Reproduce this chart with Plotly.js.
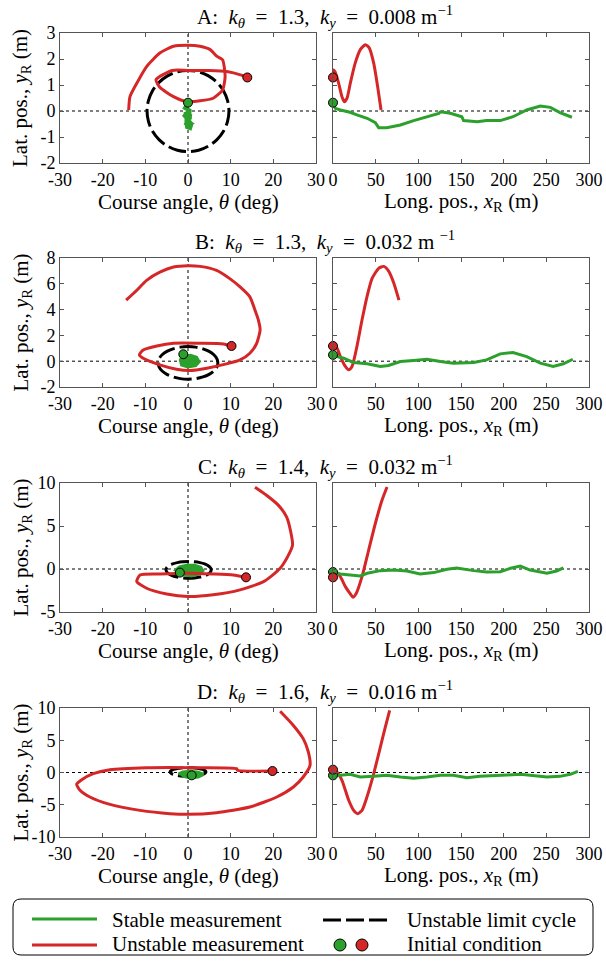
<!DOCTYPE html>
<html><head><meta charset="utf-8">
<script src="https://cdn.plot.ly/plotly-3.0.1.min.js"></script>
<style>html,body{margin:0;padding:0;background:#fff}#chart{width:606px;height:967px}</style>
</head><body><div id="chart"></div>
<script>
// ---------- tick values ----------
const thetaTicks = [-30, -20, -10, 0, 10, 20, 30];
const longTicks = [0, 50, 100, 150, 200, 250, 300];
const aLatTicks = [-2, -1, 0, 1, 2, 3];
const bLatTicks = [-2, 0, 2, 4, 6, 8];
const cLatTicks = [-5, 0, 5, 10];
const dLatTicks = [-10, -5, 0, 5, 10];

// ---------- row A ----------
const aRedTheta = [13.9, 12.5, 9.1, 5.0, 0.0, -3.7, -7.5, -6.6, -3.4, -0.3, 2.8, 5.9, 8.1, 8.7, 8.1, 6.8, 5.2, 2.8, 0.0, -3.4, -6.6, -9.7, -12.0, -13.6, -13.9];
const aRedLat = [1.29, 1.38, 1.52, 1.56, 1.56, 1.56, 1.20, 0.91, 0.55, 0.36, 0.39, 0.49, 0.81, 1.33, 1.97, 2.10, 2.36, 2.49, 2.53, 2.49, 2.23, 1.71, 1.07, 0.55, 0.04];
const aGreenTheta = [0.0, -0.7, 0.6, -0.8, 0.7, -0.6, 0.7, -0.5, 0.5, 0.8, -0.2, -0.8, 0.4, 0.2, -0.6, 0.6, -0.3];
const aGreenLat = [0.32, 0.12, 0.0, -0.12, -0.25, -0.35, -0.48, -0.60, -0.66, -0.50, -0.30, -0.18, 0.05, -0.40, -0.55, -0.10, -0.45];
const aCycleTheta = [9.6, 9.27, 8.31, 6.79, 4.80, 2.48, 0, -2.48, -4.80, -6.79, -8.31, -9.27, -9.6, -9.27, -8.31, -6.79, -4.80, -2.48, 0, 2.48, 4.80, 6.79, 8.31, 9.27, 9.6];
const aCycleLat = [0, 0.40, 0.78, 1.10, 1.35, 1.51, 1.56, 1.51, 1.35, 1.10, 0.78, 0.40, 0, -0.40, -0.78, -1.10, -1.35, -1.51, -1.56, -1.51, -1.35, -1.10, -0.78, -0.40, 0];
const aRedLong = [0, 0.8, 2.5, 6.6, 10.5, 13.3, 16.4, 20.3, 26, 32, 38, 42.6, 47.7, 52.3, 56.3];
const aRedLatR = [1.29, 1.58, 1.50, 1.07, 0.55, 0.36, 0.49, 1.07, 1.84, 2.36, 2.55, 2.42, 1.84, 0.94, 0.04];
const aGreenLong = [0, 2.7, 8.6, 20, 28, 40, 49.6, 53.5, 63, 79, 94.5, 110, 124, 126, 137.5, 151, 153, 169, 180, 196, 211, 227, 243, 254.7, 266, 280];
const aGreenLatR = [0.32, 0.10, 0.04, -0.05, -0.15, -0.28, -0.45, -0.64, -0.64, -0.54, -0.37, -0.22, -0.09, -0.03, -0.09, -0.22, -0.37, -0.41, -0.37, -0.37, -0.22, 0.04, 0.19, 0.14, -0.06, -0.24];
const aInitTheta = [0.0, 13.9];
const aInitLat = [0.32, 1.29];
const aInitLatR = [0.32, 1.29];

// ---------- row B ----------
const bRedTheta = [10.2, 8.3, 2.8, -3.4, -7.3, -10.5, -11.4, -10.5, -6.6, -2.7, 0.5, 4.4, 9.0, 12.2, 14.5, 16.1, 16.9, 16.5, 15.7, 14.5, 12.2, 9.8, 6.7, 2.8, 0.0, -3.4, -6.6, -9.7, -12.0, -14.5];
const bRedLat = [1.18, 1.34, 1.39, 1.39, 1.18, 0.87, 0.49, 0.23, -0.28, -0.62, -0.72, -0.54, -0.21, 0.10, 0.62, 1.39, 2.42, 3.19, 3.96, 4.99, 5.76, 6.40, 7.04, 7.35, 7.40, 7.30, 6.90, 6.27, 5.50, 4.73];
const bGreenTheta = [-1.1, -1.8, -1.5, 0.0, 1.8, 2.6, 2.0, 0.6, -0.8, -1.4, -0.8, 0.6, 1.8, 1.2, 0.0, -0.5, 0.4, 1.0];
const bGreenLat = [0.54, 0.10, -0.30, -0.45, -0.35, -0.05, 0.30, 0.45, 0.35, 0.00, -0.30, -0.35, -0.10, 0.20, 0.20, 0.00, -0.15, 0.00];
const bCycleTheta = [7.0, 6.76, 6.06, 4.95, 3.5, 1.81, 0, -1.81, -3.5, -4.95, -6.06, -6.76, -7.0, -6.76, -6.06, -4.95, -3.5, -1.81, 0, 1.81, 3.5, 4.95, 6.06, 6.76, 7.0];
const bCycleLat = [-0.13, 0.20, 0.50, 0.76, 0.96, 1.09, 1.13, 1.09, 0.96, 0.76, 0.50, 0.20, -0.13, -0.46, -0.76, -1.02, -1.22, -1.35, -1.39, -1.35, -1.22, -1.02, -0.76, -0.46, -0.13];
const bRedLong = [0, 4.7, 8.6, 14.5, 18.4, 22.3, 28, 34, 39.8, 45.7, 53.5, 59.4, 65, 71, 77.3];
const bRedLatR = [1.18, 1.0, 0.36, -0.41, -0.67, -0.41, 1.13, 3.19, 4.99, 6.40, 7.20, 7.35, 7.0, 6.1, 4.73];
const bGreenLong = [0, 4.7, 12.5, 24, 40, 55.5, 65, 79, 94.5, 110, 126, 141, 165, 180, 196, 211, 227, 243, 258, 270, 281];
const bGreenLatR = [0.49, 0.36, 0.23, -0.10, -0.20, -0.41, -0.33, -0.03, 0.05, 0.15, -0.03, -0.15, -0.10, 0.10, 0.57, 0.67, 0.36, -0.15, -0.41, -0.20, 0.15];
const bInitTheta = [-1.1, 10.2];
const bInitLat = [0.54, 1.18];
const bInitLatR = [0.49, 1.18];

// ---------- row C ----------
const cRedTheta = [13.6, 10.6, 5.9, -0.3, -6.6, -11.25, -12.0, -9.7, -5.0, 0.0, 5.9, 12.2, 17.7, 21.6, 23.75, 24.5, 24.0, 23.1, 21.2, 18.4, 15.7];
const cRedLat = [-0.97, -0.70, -0.58, -0.50, -0.58, -0.70, -1.47, -2.24, -2.90, -3.20, -3.00, -2.43, -1.47, 0.08, 1.81, 2.78, 4.50, 6.06, 7.40, 8.57, 9.50];
const cGreenTheta = [-1.9, -2.9, -2.0, -0.3, 1.5, 3.0, 3.5, 2.6, 0.8, -1.0, -2.3, -1.8, -0.3, 1.5, 2.5, 1.6, 0.0, -1.2, -0.5, 1.0, 1.2];
const cGreenLat = [-0.42, -0.15, 0.25, 0.45, 0.45, 0.20, -0.20, -0.60, -0.80, -0.70, -0.35, 0.05, 0.25, 0.20, -0.15, -0.50, -0.55, -0.30, 0.00, 0.00, -0.30];
const cCycleTheta = [5.45, 5.27, 4.74, 3.90, 2.80, 1.52, 0.15, -1.22, -2.50, -3.60, -4.44, -4.97, -5.15, -4.97, -4.44, -3.60, -2.50, -1.22, 0.15, 1.52, 2.80, 3.90, 4.74, 5.27, 5.45];
const cCycleLat = [-0.10, 0.15, 0.39, 0.59, 0.74, 0.84, 0.87, 0.84, 0.74, 0.59, 0.39, 0.15, -0.10, -0.35, -0.59, -0.79, -0.94, -1.04, -1.07, -1.04, -0.94, -0.79, -0.59, -0.35, -0.10];
const cRedLong = [0, 4.7, 8.6, 14.5, 20.3, 23.4, 27.3, 34, 41.8, 49.6, 57.4, 63.3];
const cRedLatR = [-0.97, -0.50, -0.90, -2.05, -2.90, -3.28, -2.82, -0.89, 2.20, 5.29, 7.99, 9.54];
const cGreenLong = [0, 8.6, 20, 32, 40, 55.5, 71, 86.7, 102, 118, 133.6, 145, 165, 180, 196, 208, 219.5, 231, 250.7, 262, 270];
const cGreenLatR = [-0.35, -0.58, -0.70, -0.81, -0.50, -0.19, -0.12, -0.23, -0.58, -0.42, -0.04, 0.12, -0.19, -0.35, -0.31, 0.08, 0.35, -0.12, -0.50, -0.23, 0.12];
const cInitTheta = [-1.9, 13.6];
const cInitLat = [-0.42, -0.97];
const cInitLatR = [-0.35, -0.97];

// ---------- row D ----------
const dRedTheta = [19.8, 11.6, 11.4, 2.8, -9.7, -18.3, -22.2, -24.9, -26.1, -25.3, -23.0, -18.3, -11.25, -4.2, 0.0, 6.7, 14.5, 20.8, 24.7, 27.0, 28.6, 28.2, 27.0, 24.7, 21.6];
const dRedLat = [0.23, 0.35, 0.60, 0.75, 0.75, 0.44, -0.18, -1.11, -1.83, -2.76, -3.80, -4.94, -5.87, -6.38, -6.49, -6.23, -5.35, -3.80, -2.25, -0.70, 1.11, 3.18, 5.25, 7.30, 9.50];
const dGreenTheta = [0.86, -0.8, -2.2, -1.2, 0.6, 2.4, 3.6, 2.4, 0.6, -1.0, -1.6, -0.4, 1.4, 2.6, 1.5, 0.0, 0.5, 1.6];
const dGreenLat = [-0.44, -0.35, -0.20, 0.10, 0.20, 0.05, -0.30, -0.70, -0.85, -0.60, -0.25, 0.00, 0.00, -0.30, -0.55, -0.50, -0.25, -0.25];
const dCycleTheta = [4.2, 4.06, 3.64, 2.97, 2.1, 1.09, 0, -1.09, -2.1, -2.97, -3.64, -4.06, -4.2, -4.06, -3.64, -2.97, -2.1, -1.09, 0, 1.09, 2.1, 2.97, 3.64, 4.06, 4.2];
const dCycleLat = [0.08, 0.25, 0.42, 0.55, 0.66, 0.73, 0.75, 0.73, 0.66, 0.55, 0.42, 0.25, 0.08, -0.09, -0.26, -0.39, -0.50, -0.57, -0.59, -0.57, -0.50, -0.39, -0.26, -0.09, 0.08];
const dRedLong = [0, 4.7, 10.5, 18.4, 24.2, 28.9, 34, 39.8, 47.7, 55.5, 61.3, 66.4];
const dRedLatR = [0.44, 0.08, -1.21, -4.30, -5.87, -6.38, -5.87, -3.80, -0.18, 3.95, 7.05, 9.64];
const dGreenLong = [0, 8.6, 20, 32, 47.7, 63, 79, 94.5, 110, 126, 141, 157, 172, 188, 204, 219.5, 235, 250.7, 266, 278, 287];
const dGreenLatR = [-0.44, -0.44, -0.28, -0.70, -0.60, -0.44, -0.70, -0.90, -0.70, -0.44, -0.44, -0.80, -0.60, -0.44, -0.39, -0.28, -0.44, -0.70, -0.60, -0.28, 0.18];
const dInitTheta = [0.86, 19.8];
const dInitLat = [-0.44, 0.23];
const dInitLatR = [-0.44, 0.44];

// ---------- texts ----------
const NB = '\u00A0', EN = '\u2002';
const panelTitles = [
  'A:' + NB + NB + '<i>k</i><sub><i>θ</i></sub>' + EN + '=' + EN + '1.3,' + NB + NB + '<i>k<sub>y</sub></i>' + EN + '=' + EN + '0.008' + NB + 'm<sup>−1</sup>',
  'B:' + NB + NB + '<i>k</i><sub><i>θ</i></sub>' + EN + '=' + EN + '1.3,' + NB + NB + '<i>k<sub>y</sub></i>' + EN + '=' + EN + '0.032' + NB + 'm' + NB + '<sup>−1</sup>',
  'C:' + NB + NB + '<i>k</i><sub><i>θ</i></sub>' + EN + '=' + EN + '1.4,' + NB + NB + '<i>k<sub>y</sub></i>' + EN + '=' + EN + '0.032' + NB + 'm<sup>−1</sup>',
  'D:' + NB + NB + '<i>k</i><sub><i>θ</i></sub>' + EN + '=' + EN + '1.6,' + NB + NB + '<i>k<sub>y</sub></i>' + EN + '=' + EN + '0.016' + NB + 'm<sup>−1</sup>'
];
const xTitleLeft = 'Course angle, <i>θ</i> (deg)';
const xTitleRight = 'Long. pos., <i>x</i><sub>R</sub> (m)';
const yTitle = 'Lat. pos., <i>y</i><sub>R</sub> (m)';
const legendLabels = ['Stable measurement', 'Unstable measurement', 'Unstable limit cycle', 'Initial condition'];

// ---------- styling / layout ----------
const W = 606, H = 967;
const px = x => x / W, py = y => 1 - y / H;
const FONT = 'Liberation Serif';
const GREEN = '#2ca02c', RED = '#d62728';
const FRAME = '#555';
const rowsPx = [[33, 163], [258, 387], [483, 612], [708, 837]];
const colL = [60, 316], colR = [333, 589];

const rows = [
  {rt: aRedTheta, ry: aRedLat, gt: aGreenTheta, gy: aGreenLat, ct: aCycleTheta, cy: aCycleLat, rx: aRedLong, ryR: aRedLatR, gx: aGreenLong, gyR: aGreenLatR, it: aInitTheta, iy: aInitLat, iyR: aInitLatR, ticks: aLatTicks, fill: false},
  {rt: bRedTheta, ry: bRedLat, gt: bGreenTheta, gy: bGreenLat, ct: bCycleTheta, cy: bCycleLat, rx: bRedLong, ryR: bRedLatR, gx: bGreenLong, gyR: bGreenLatR, it: bInitTheta, iy: bInitLat, iyR: bInitLatR, ticks: bLatTicks, fill: true},
  {rt: cRedTheta, ry: cRedLat, gt: cGreenTheta, gy: cGreenLat, ct: cCycleTheta, cy: cCycleLat, rx: cRedLong, ryR: cRedLatR, gx: cGreenLong, gyR: cGreenLatR, it: cInitTheta, iy: cInitLat, iyR: cInitLatR, ticks: cLatTicks, fill: true},
  {rt: dRedTheta, ry: dRedLat, gt: dGreenTheta, gy: dGreenLat, ct: dCycleTheta, cy: dCycleLat, rx: dRedLong, ryR: dRedLatR, gx: dGreenLong, gyR: dGreenLatR, it: dInitTheta, iy: dInitLat, iyR: dInitLatR, ticks: dLatTicks, fill: true}
];

const axBase = {
  showline: true, mirror: 'ticks', linecolor: FRAME, linewidth: 1,
  ticks: 'inside', ticklen: 4, tickcolor: FRAME, tickwidth: 1,
  showgrid: false, zeroline: false, fixedrange: true,
  tickfont: {family: FONT, size: 18, color: '#000'}
};

const traces = [];
const shapes = [];
const annotations = [];
const layout = {
  width: W, height: H, margin: {l: 0, r: 0, t: 0, b: 0},
  paper_bgcolor: '#fff', plot_bgcolor: '#fff', showlegend: false,
  font: {family: FONT, size: 18, color: '#000'}
};

function lineTrace(x, y, xa, ya, color, opts) {
  return Object.assign({type: 'scatter', mode: 'lines', x: x, y: y, xaxis: xa, yaxis: ya,
    line: {color: color, width: 3}, hoverinfo: 'skip', showlegend: false}, opts || {});
}
function initTrace(x, y, xa, ya) {
  return {type: 'scatter', mode: 'markers', x: x, y: y, xaxis: xa, yaxis: ya, cliponaxis: false,
    marker: {size: 9, color: [GREEN, RED], line: {color: '#000', width: 1}}, hoverinfo: 'skip', showlegend: false};
}

rows.forEach((r, i) => {
  const nL = 2 * i + 1, nR = 2 * i + 2;
  const kL = nL === 1 ? '' : String(nL), kR = String(nR);
  const xaL = 'x' + kL, yaL = 'y' + kL, xaR = 'x' + kR, yaR = 'y' + kR;
  const yd = [py(rowsPx[i][1]), py(rowsPx[i][0])];
  const yr = [r.ticks[0], r.ticks[r.ticks.length - 1]];

  layout['xaxis' + kL] = Object.assign({}, axBase, {domain: [px(colL[0]), px(colL[1])], range: [thetaTicks[0], thetaTicks[thetaTicks.length - 1]],
    tickmode: 'array', tickvals: thetaTicks, ticktext: thetaTicks.map(String), anchor: yaL});
  layout['yaxis' + kL] = Object.assign({}, axBase, {domain: yd, range: yr,
    tickmode: 'array', tickvals: r.ticks, ticktext: r.ticks.map(String), anchor: xaL});
  layout['xaxis' + kR] = Object.assign({}, axBase, {domain: [px(colR[0]), px(colR[1])], range: [longTicks[0], longTicks[longTicks.length - 1]],
    tickmode: 'array', tickvals: longTicks, ticktext: longTicks.map(String), anchor: yaR});
  layout['yaxis' + kR] = Object.assign({}, axBase, {domain: yd, range: yr,
    tickmode: 'array', tickvals: r.ticks, showticklabels: false, anchor: xaR});

  // left panel: limit cycle, stable blob, unstable trajectory, initial conditions
  traces.push(lineTrace(r.ct, r.cy, xaL, yaL, '#000', {line: {color: '#000', width: 3, dash: '18px,5px', shape: 'spline', smoothing: 1}}));
  traces.push(lineTrace(r.gt, r.gy, xaL, yaL, GREEN, r.fill ? {fill: 'toself', fillcolor: GREEN} : {line: {color: GREEN, width: 4}}));
  traces.push(lineTrace(r.rt, r.ry, xaL, yaL, RED, {line: {color: RED, width: 3, shape: 'spline', smoothing: 0.6}}));
  traces.push(initTrace(r.it, r.iy, xaL, yaL));
  // right panel
  traces.push(lineTrace(r.rx, r.ryR, xaR, yaR, RED, {line: {color: RED, width: 3, shape: 'spline', smoothing: 0.6}}));
  traces.push(lineTrace(r.gx, r.gyR, xaR, yaR, GREEN));
  traces.push(initTrace([0, 0], r.iyR, xaR, yaR));

  // dotted reference lines
  const dot = {color: '#000', width: 1, dash: 'dot'};
  shapes.push({type: 'line', layer: 'below', xref: xaL, yref: yaL + ' domain', x0: 0, x1: 0, y0: 0, y1: 1, line: dot});
  shapes.push({type: 'line', layer: 'below', xref: xaL + ' domain', yref: yaL, x0: 0, x1: 1, y0: 0, y1: 0, line: dot});
  shapes.push({type: 'line', layer: 'below', xref: xaR + ' domain', yref: yaR, x0: 0, x1: 1, y0: 0, y1: 0, line: dot});

  // titles
  annotations.push({text: panelTitles[i], xref: 'paper', yref: 'paper', x: px(325), y: py(rowsPx[i][0] - 17),
    xanchor: 'center', yanchor: 'middle', showarrow: false, font: {family: FONT, size: 21, color: '#000'}});
  annotations.push({text: xTitleLeft, xref: 'paper', yref: 'paper', x: px((colL[0] + colL[1]) / 2), y: py(rowsPx[i][1] + 39),
    xanchor: 'center', yanchor: 'middle', showarrow: false, font: {family: FONT, size: 21, color: '#000'}});
  annotations.push({text: xTitleRight, xref: 'paper', yref: 'paper', x: px((colR[0] + colR[1]) / 2), y: py(rowsPx[i][1] + 39),
    xanchor: 'center', yanchor: 'middle', showarrow: false, font: {family: FONT, size: 21, color: '#000'}});
  annotations.push({text: yTitle, xref: 'paper', yref: 'paper', x: px(21), y: py((rowsPx[i][0] + rowsPx[i][1]) / 2),
    xanchor: 'center', yanchor: 'middle', textangle: -90, showarrow: false, font: {family: FONT, size: 21, color: '#000'}});
});

// ---------- legend (drawn in paper space) ----------
const LB = {x0: 13, x1: 593, y0: 899, y1: 955, r: 8};
const PT = (x, y) => px(x) + ',' + py(y);
shapes.push({type: 'path', xref: 'paper', yref: 'paper', line: {color: '#000', width: 1}, fillcolor: 'rgba(0,0,0,0)',
  path: 'M' + PT(LB.x0 + LB.r, LB.y0) + ' L' + PT(LB.x1 - LB.r, LB.y0) + ' Q' + PT(LB.x1, LB.y0) + ' ' + PT(LB.x1, LB.y0 + LB.r) +
        ' L' + PT(LB.x1, LB.y1 - LB.r) + ' Q' + PT(LB.x1, LB.y1) + ' ' + PT(LB.x1 - LB.r, LB.y1) +
        ' L' + PT(LB.x0 + LB.r, LB.y1) + ' Q' + PT(LB.x0, LB.y1) + ' ' + PT(LB.x0, LB.y1 - LB.r) +
        ' L' + PT(LB.x0, LB.y0 + LB.r) + ' Q' + PT(LB.x0, LB.y0) + ' ' + PT(LB.x0 + LB.r, LB.y0) + ' Z'});
shapes.push({type: 'line', xref: 'paper', yref: 'paper', x0: px(32), x1: px(97), y0: py(919), y1: py(919), line: {color: GREEN, width: 3}});
shapes.push({type: 'line', xref: 'paper', yref: 'paper', x0: px(32), x1: px(97), y0: py(945), y1: py(945), line: {color: RED, width: 3}});
shapes.push({type: 'line', xref: 'paper', yref: 'paper', x0: px(323), x1: px(387), y0: py(920), y1: py(920), line: {color: '#000', width: 3, dash: '18px,5px'}});
[[340, GREEN], [362, RED]].forEach(([cx, col]) => {
  shapes.push({type: 'circle', xref: 'paper', yref: 'paper', x0: px(cx - 6), x1: px(cx + 6), y0: py(945 + 6), y1: py(945 - 6),
    fillcolor: col, line: {color: '#000', width: 1}});
});
[[110, 920, 0], [110, 944, 1], [405, 920, 2], [405, 944, 3]].forEach(([x, y, k]) => {
  annotations.push({text: legendLabels[k], xref: 'paper', yref: 'paper', x: px(x), y: py(y), xanchor: 'left', yanchor: 'middle',
    showarrow: false, font: {family: FONT, size: 21, color: '#000'}});
});

layout.shapes = shapes;
layout.annotations = annotations;
Plotly.newPlot('chart', traces, layout, {displayModeBar: false, responsive: false});
</script></body></html>
